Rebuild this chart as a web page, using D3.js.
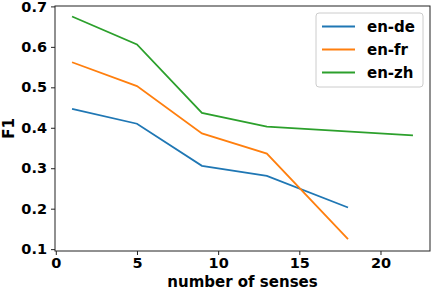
<!DOCTYPE html>
<html lang="en">
<head>
<meta charset="utf-8">
<title>F1 vs number of senses</title>
<style>
  body { margin: 0; background: #fff; }
  svg text { font-family: "DejaVu Sans", sans-serif; font-weight: bold; fill: #000; }
  .axis path, .axis line { stroke: #222; }
</style>
</head>
<body>
<svg id="chart" width="432" height="290"></svg>
<script src="https://d3js.org/d3.v7.min.js"></script>
<script>

var senses = [1, 5, 9, 13];
var enDe = [0.447, 0.410, 0.306, 0.281, 0.203];
var enFr = [0.562, 0.503, 0.386, 0.336, 0.125];
var enZh = [0.675, 0.606, 0.437, 0.403, 0.381];
var lastX = [18, 18, 22];
var seriesNames = ["en-de", "en-fr", "en-zh"];
var colors = ["#1f77b4", "#ff7f0e", "#2ca02c"];
var xTicks = [0, 5, 10, 15, 20];
var yTicks = [0.1, 0.2, 0.3, 0.4, 0.5, 0.6, 0.7];

var svg = d3.select("#chart");
// plot box (note: "top" is taken by window.top)
var plotL = 55, plotR = 430, plotT = 6, plotB = 251;

var x = d3.scaleLinear().domain([-0.05, 23.05]).range([plotL, plotR]);
var y = d3.scaleLinear().domain([0.0954, 0.7010]).range([plotB, plotT]);

var series = [enDe, enFr, enZh].map(function(vals, i) {
  var xs = senses.concat([lastX[i]]);
  return { name: seriesNames[i], color: colors[i],
           points: vals.map(function(v, j) { return [xs[j], v]; }) };
});

var line = d3.line()
    .x(function(d) { return x(d[0]); })
    .y(function(d) { return y(d[1]); });

svg.selectAll("path.series")
    .data(series)
  .enter().append("path")
    .attr("class", "series")
    .attr("fill", "none")
    .attr("stroke", function(d) { return d.color; })
    .attr("stroke-width", 1.8)
    .attr("d", function(d) { return line(d.points); });

// frame
svg.append("rect")
    .attr("x", plotL).attr("y", plotT)
    .attr("width", plotR - plotL).attr("height", plotB - plotT)
    .attr("fill", "none").attr("stroke", "#222").attr("stroke-width", 1);

var xAxis = svg.append("g")
    .attr("class", "axis")
    .attr("transform", "translate(0," + plotB + ")")
    .call(d3.axisBottom(x).tickValues(xTicks).tickSize(4).tickPadding(3)
          .tickFormat(d3.format("d")));
xAxis.select(".domain").remove();
xAxis.selectAll("text").style("font-size", "14.5px");

var yAxis = svg.append("g")
    .attr("class", "axis")
    .attr("transform", "translate(" + plotL + ",0)")
    .call(d3.axisLeft(y).tickValues(yTicks).tickSize(4).tickPadding(4)
          .tickFormat(d3.format(".1f")));
yAxis.select(".domain").remove();
yAxis.selectAll("text").style("font-size", "14.5px");

svg.append("text")
    .attr("x", (plotL + plotR) / 2).attr("y", 287)
    .attr("text-anchor", "middle")
    .style("font-size", "15px")
    .text("number of senses");

svg.append("text")
    .attr("transform", "translate(14," + ((plotT + plotB) / 2) + ") rotate(-90)")
    .attr("text-anchor", "middle")
    .style("font-size", "15px")
    .text("F1");

// legend
var legend = svg.append("g").attr("transform", "translate(316,13)");
legend.append("rect")
    .attr("width", 107).attr("height", 74).attr("rx", 3)
    .attr("fill", "#fff").attr("fill-opacity", 0.8)
    .attr("stroke", "#ccc");
var item = legend.selectAll("g.item")
    .data(series)
  .enter().append("g")
    .attr("class", "item")
    .attr("transform", function(d, i) { return "translate(0," + (13.5 + i * 23) + ")"; });
item.append("line")
    .attr("x1", 6).attr("x2", 39)
    .attr("stroke", function(d) { return d.color; })
    .attr("stroke-width", 1.8);
item.append("text")
    .attr("x", 51).attr("dy", "0.35em")
    .style("font-size", "15px")
    .text(function(d) { return d.name; });
</script>
</body>
</html>
